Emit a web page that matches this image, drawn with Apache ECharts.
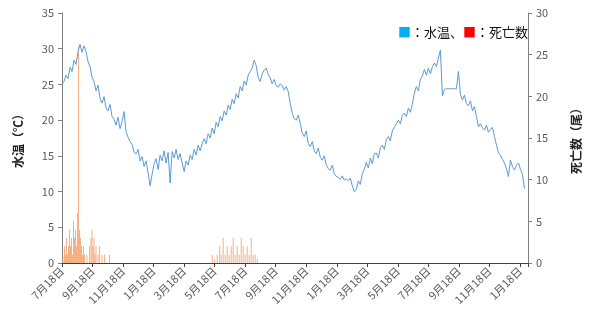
<!DOCTYPE html>
<html>
<head>
<meta charset="utf-8">
<script src="https://cdn.jsdelivr.net/npm/echarts@6/dist/echarts.min.js"></script>
<style>
  html, body { margin: 0; padding: 0; background: #fff; }
  #chart { width: 590px; height: 324px; }
</style>
</head>
<body>
<div id="chart"></div>
<script>
// x axis: days counted from the first 7月18日; one tick every 61 days
const tickLabels = ["7月18日", "9月18日", "11月18日", "1月18日", "3月18日", "5月18日",
  "7月18日", "9月18日", "11月18日", "1月18日", "3月18日", "5月18日",
  "7月18日", "9月18日", "11月18日", "1月18日"];
const tickStep = 61;
const lastDay = 931;

// water temperature, one reading every 4 days starting at day 0
const tempStep = 4;
const waterTemp = [
  25.0, 25.4, 26.3, 25.8, 27.4, 26.8, 28.4, 27.8, 29.6, 30.6, 29.5, 30.4, 29.6, 28.2, 27.5, 26.0,
  25.4, 24.1, 24.9, 23.0, 22.4, 23.3, 21.7, 21.3, 22.2, 20.5, 20.1, 19.3, 20.4, 18.8, 19.8, 21.2,
  18.4, 17.6, 17.0, 16.6, 15.5, 15.3, 15.9, 14.3, 14.9, 13.5, 14.3, 12.6, 10.8, 12.4, 13.9, 14.6,
  13.1, 15.1, 14.3, 15.7, 14.0, 15.5, 11.2, 15.6, 14.7, 15.9, 14.5, 15.3, 14.0, 12.8, 14.3, 13.7,
  15.1, 14.5, 15.9, 15.1, 16.5, 15.7, 16.7, 17.4, 16.7, 18.1, 17.5, 18.9, 18.1, 19.7, 19.1, 20.5,
  19.9, 21.3, 20.7, 22.1, 21.5, 22.9, 22.3, 23.7, 23.1, 24.7, 24.1, 25.5, 24.9, 26.3, 26.8, 27.3,
  28.4, 27.6, 26.0, 25.4, 26.5, 27.0, 27.3, 26.4, 25.9, 25.1, 25.7, 24.8, 24.6, 25.1, 24.8, 24.2,
  24.7, 24.0, 22.3, 21.0, 20.2, 20.0, 20.7, 19.5, 18.2, 17.7, 18.5, 16.7, 16.3, 17.0, 15.7, 15.3,
  16.1, 14.8, 14.4, 15.0, 13.7, 13.2, 13.0, 13.7, 12.5, 12.1, 12.0, 11.7, 12.2, 11.6, 11.8, 11.5,
  11.9, 10.8, 10.0, 10.3, 11.5, 11.0, 12.5, 13.1, 14.1, 13.3, 14.7, 13.9, 15.3, 15.4, 14.7, 16.1,
  16.5, 15.9, 17.3, 17.7, 17.1, 18.5, 19.0, 19.5, 20.0, 19.5, 20.7, 21.0, 20.5, 21.7, 21.1, 22.3,
  23.8, 24.7, 24.1, 25.7, 26.2, 27.1, 26.3, 27.3, 26.5, 27.5, 28.0, 27.5, 28.7, 29.8, 23.4, 24.3,
  24.4, 24.4, 24.4, 24.4, 24.4, 24.4, 26.8, 23.6, 22.8, 23.5, 22.3, 22.0, 22.7, 21.3, 21.9, 20.5,
  19.1, 19.5, 18.9, 18.6, 19.3, 18.3, 18.7, 19.0, 17.7, 16.5, 15.4, 15.1, 14.5, 14.0, 13.2, 12.1,
  14.4, 13.5, 13.0, 13.7, 14.0, 13.1, 12.4, 10.4
];

// deaths: day and count, days without deaths left out
const deathDays = [2, 5, 7, 9, 11, 13, 15, 17, 19, 21, 23, 25, 27, 29, 31, 33, 35, 37, 39, 41, 43, 45,
  50, 55, 58, 60, 62, 64, 66, 68, 72, 75, 80, 85, 95,
  300, 305, 310, 315, 318, 322, 326, 330, 334, 338, 342, 346, 350, 354, 358, 362, 366, 370, 374,
  378, 382, 386, 390];
const deathCount = [1, 2, 1, 3, 1, 2, 4, 2, 3, 1, 5, 3, 4, 2, 6, 26, 4, 3, 2, 1, 2, 1,
  1, 2, 3, 4, 2, 3, 1, 2, 1, 2, 1, 1, 1,
  1, 0.5, 1, 2, 1, 3, 1, 2, 1, 2, 3, 1, 2, 1, 3, 2, 1, 2, 1,
  3, 1, 1, 0.5];

const tempData = waterTemp.map((v, i) => [i * tempStep, v]);
const deathData = deathDays.map((d, i) => [d, deathCount[i]]);

const font = "'Noto Sans CJK JP', 'Noto Sans', sans-serif";
const axisGrey = "#7f7f7f";
const labelGrey = "#595959";

const chart = echarts.init(document.getElementById("chart"));
chart.setOption({
  backgroundColor: "#fff",
  animation: false,
  textStyle: { fontFamily: font },
  grid: { left: 62, right: 54, top: 13, bottom: 61 },
  title: {
    right: 57,
    top: 21,
    text: "{b|■}：水温、{r|■}：死亡数",
    textStyle: {
      fontSize: 13,
      fontWeight: "normal",
      color: "#111",
      fontFamily: font,
      rich: {
        b: { color: "#00b0f0", fontSize: 13 },
        r: { color: "#ff0000", fontSize: 13 },
      },
    },
  },
  xAxis: {
    type: "value",
    min: 0,
    max: lastDay,
    interval: tickStep,
    splitLine: { show: false },
    axisLine: { lineStyle: { color: "#404040", width: 1 } },
    axisTick: { length: 4, lineStyle: { color: "#404040" } },
    axisLabel: {
      rotate: 45,
      fontSize: 11,
      color: labelGrey,
      margin: 6,
      formatter: (v) => {
        const k = v / tickStep;
        return Number.isInteger(k) && tickLabels[k] ? tickLabels[k] : "";
      },
    },
  },
  yAxis: [
    {
      type: "value",
      min: 0,
      max: 35,
      interval: 5,
      name: "水温（℃）",
      nameLocation: "middle",
      nameRotate: 90,
      nameGap: 38,
      nameTextStyle: { fontSize: 12, fontWeight: "bold", color: "#222" },
      splitLine: { show: false },
      axisLine: { show: true, lineStyle: { color: axisGrey } },
      axisTick: { show: true, length: 4, lineStyle: { color: axisGrey } },
      axisLabel: { fontSize: 11, color: labelGrey, margin: 8 },
    },
    {
      type: "value",
      min: 0,
      max: 30,
      interval: 5,
      name: "死亡数（尾）",
      nameLocation: "middle",
      nameRotate: 90,
      nameGap: 42,
      nameTextStyle: { fontSize: 12, fontWeight: "bold", color: "#222" },
      splitLine: { show: false },
      axisLine: { show: true, lineStyle: { color: axisGrey } },
      axisTick: { show: true, length: 4, lineStyle: { color: axisGrey } },
      axisLabel: { fontSize: 11, color: labelGrey, margin: 8 },
    },
  ],
  series: [
    {
      name: "死亡数",
      type: "bar",
      yAxisIndex: 1,
      barWidth: 1,
      itemStyle: { color: "rgba(240,150,90,0.75)" },
      data: deathData,
    },
    {
      name: "水温",
      type: "line",
      yAxisIndex: 0,
      symbol: "none",
      lineStyle: { color: "#5b9bd5", width: 1 },
      data: tempData,
    },
  ],
});
</script>
</body>
</html>
